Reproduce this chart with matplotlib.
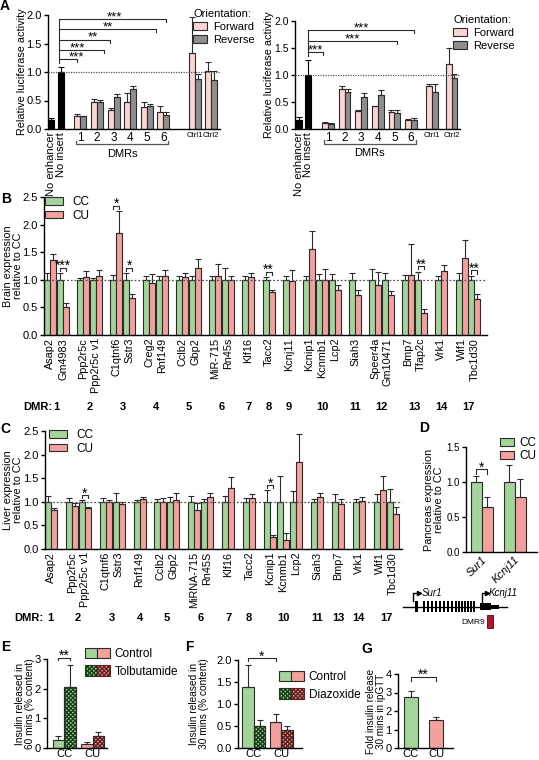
import matplotlib
matplotlib.use('Agg')
import matplotlib.pyplot as plt
import numpy as np
from matplotlib.patches import Patch, Rectangle
from matplotlib.legend_handler import HandlerTuple
from matplotlib.transforms import blended_transform_factory

plt.rcParams['font.family'] = ['Liberation Sans', 'DejaVu Sans']
plt.rcParams['font.size'] = 7.5
plt.rcParams['axes.linewidth'] = 1.0
plt.rcParams['hatch.linewidth'] = 1.0

# ---------------- data ----------------
# Panel A (luciferase, two cell lines)
a_single_labels = ['No enhancer', 'No insert']
a_group_labels = ['1', '2', '3', '4', '5', '6', 'Ctrl1', 'Ctrl2']
a1_single = [0.15, 1.00]
a1_single_err = [0.04, 0.08]
a1_fwd = [0.22, 0.48, 0.34, 0.48, 0.38, 0.29, 1.33, 1.01]
a1_fwd_err = [0.04, 0.04, 0.02, 0.15, 0.10, 0.12, 0.63, 0.17]
a1_rev = [0.22, 0.48, 0.57, 0.70, 0.40, 0.24, 0.87, 0.86]
a1_rev_err = [0.01, 0.03, 0.05, 0.06, 0.04, 0.05, 0.10, 0.16]
a1_sig_target = [1, 2, 3, 5, 6]
a1_sig_label = ['***', '***', '**', '**', '***']

a2_single = [0.17, 1.00]
a2_single_err = [0.05, 0.28]
a2_fwd = [0.12, 0.74, 0.33, 0.42, 0.31, 0.16, 0.80, 1.21]
a2_fwd_err = [0.01, 0.06, 0.02, 0.01, 0.04, 0.03, 0.04, 0.29]
a2_rev = [0.10, 0.69, 0.60, 0.63, 0.29, 0.17, 0.68, 0.95]
a2_rev_err = [0.01, 0.06, 0.07, 0.09, 0.07, 0.03, 0.15, 0.07]
a2_sig_target = [1, 5, 6]
a2_sig_label = ['***', '***', '***']

# Panel B (brain)
b_genes = ['Asap2', 'Gm4983', 'Ppp2r5c', 'Ppp2r5c v1', 'C1qtnf6', 'Sstr3', 'Creg2', 'Rnf149',
           'Cclb2', 'Gbp2', 'MiR-715', 'Rn45s', 'Klf16', 'Tacc2', 'Kcnj11', 'Kcnip1', 'Kcnmb1',
           'Lcp2', 'Siah3', 'Speer4a', 'Gm10471', 'Bmp7', 'Tfap2c', 'Vrk1', 'Wif1', 'Tbc1d30']
b_dmr = ['1', '1', '2', '2', '3', '3', '4', '4', '5', '5', '6', '6', '7', '8', '9', '10', '10',
         '10', '11', '12', '12', '13', '13', '14', '17', '17']
b_cc = [1.0, 1.0, 1.0, 1.0, 1.0, 1.0, 1.0, 1.0, 1.0, 1.0, 1.0, 1.0, 1.0, 1.0, 1.0, 1.0, 1.0,
        1.0, 1.0, 1.0, 1.0, 1.0, 1.0, 1.0, 1.0, 1.0]
b_cc_err = [0.12, 0.12, 0.04, 0.03, 0.08, 0.12, 0.06, 0.06, 0.07, 0.07, 0.07, 0.21, 0.07, 0.05,
            0.07, 0.07, 0.10, 0.10, 0.12, 0.19, 0.12, 0.08, 0.15, 0.07, 0.12, 0.07]
b_cu = [1.35, 0.50, 1.05, 1.07, 1.85, 0.67, 0.95, 1.06, 1.05, 1.21, 1.07, 1.00, 1.05, 0.77,
        0.98, 1.56, 0.99, 0.81, 0.72, 0.90, 0.73, 1.09, 0.39, 1.16, 1.40, 0.65]
b_cu_err = [0.12, 0.08, 0.11, 0.10, 0.39, 0.08, 0.15, 0.12, 0.08, 0.17, 0.21, 0.06, 0.07, 0.05,
            0.20, 0.32, 0.20, 0.09, 0.09, 0.24, 0.06, 0.55, 0.08, 0.11, 0.32, 0.09]
b_sig = {'Gm4983': '***', 'C1qtnf6': '*', 'Sstr3': '*', 'Tacc2': '**', 'Tfap2c': '**', 'Tbc1d30': '**'}

# Panel C (liver)
c_genes = ['Asap2', 'Ppp2r5c', 'Ppp2r5c v1', 'C1qtnf6', 'Sstr3', 'Rnf149', 'Cclb2', 'Gbp2',
           'MiRNA-715', 'Rn45S', 'Klf16', 'Tacc2', 'Kcnip1', 'Kcnmb1', 'Lcp2', 'Siah3', 'Bmp7',
           'Vrk1', 'Wif1', 'Tbc1d30']
c_dmr = ['1', '2', '2', '3', '3', '4', '5', '5', '6', '6', '7', '8', '10', '10', '10', '11', '13',
         '14', '17', '17']
c_cc = [1.0, 1.0, 1.0, 1.0, 1.0, 1.0, 1.0, 1.0, 1.0, 1.0, 1.0, 1.0, 1.0, 1.0, 1.0, 1.0, 1.0,
        1.0, 1.0, 1.0]
c_cc_err = [0.12, 0.08, 0.04, 0.08, 0.18, 0.04, 0.06, 0.10, 0.13, 0.05, 0.12, 0.08, 0.25, 0.55,
            0.22, 0.05, 0.17, 0.05, 0.17, 0.27]
c_cu = [0.82, 0.92, 0.86, 1.00, 0.95, 1.05, 1.00, 1.03, 0.83, 1.10, 1.30, 1.07, 0.26, 0.20,
        1.85, 1.11, 0.96, 1.02, 1.25, 0.75]
c_cu_err = [0.05, 0.05, 0.04, 0.04, 0.05, 0.05, 0.08, 0.15, 0.14, 0.08, 0.22, 0.10, 0.03, 0.13,
            0.58, 0.08, 0.09, 0.08, 0.29, 0.15]
c_sig = {'Ppp2r5c v1': '*', 'Kcnip1': '*'}

# Panel D (pancreas)
d_genes = ['Sur1', 'Kcnj11']
d_cc = [1.0, 1.0]
d_cc_err = [0.09, 0.25]
d_cu = [0.65, 0.79]
d_cu_err = [0.14, 0.26]
d_sig = {'Sur1': '*'}

# Panels E-G
groups = ['CC', 'CU']
e_control = [0.28, 0.15]
e_control_err = [0.11, 0.04]
e_tolb = [2.06, 0.39]
e_tolb_err = [0.73, 0.14]
f_control = [1.38, 0.60]
f_control_err = [0.51, 0.18]
f_diaz = [0.51, 0.40]
f_diaz_err = [0.12, 0.11]
g_fold = [2.78, 1.52]
g_fold_err = [0.32, 0.18]

# ---------------- style ----------------
GREEN = '#a3d59b'
PINK = '#f3a09f'
FWD = '#fbd5d5'
REV = '#8e8e8e'
EDGE = '#2b2b2b'
DKGREEN = '#1a401a'
DKPINK = '#5e1f1f'
HATCH = 'xxxxxxxx'

W, H = 539.0, 760.0
fig = plt.figure(figsize=(W / 100, H / 100), dpi=100)


def px_axes(x0, y_top, x1, y_bot):
    return fig.add_axes([x0 / W, 1 - y_bot / H, (x1 - x0) / W, (y_bot - y_top) / H])


def style(ax, ylab_size=8):
    for s in ['top', 'right']:
        ax.spines[s].set_visible(False)
    ax.tick_params(axis='y', direction='out', length=3, width=1, labelsize=ylab_size, pad=1.5)
    ax.tick_params(axis='x', length=0, labelsize=8, pad=2)


def ylabel_px(ax, text, xpx, fs=7.8, ls=1.05):
    bb = ax.get_position()
    ax.set_ylabel(text, fontsize=fs, linespacing=ls)
    ax.yaxis.label.set_va('center')
    ax.yaxis.set_label_coords((xpx / W - bb.x0) / bb.width, 0.5)


def panel_label(txt, x, y):
    fig.text(x / W, 1 - y / H, txt, fontsize=10, fontweight='bold', ha='center', va='center')


def up_err(ax, x, y, e, color=EDGE):
    ax.errorbar(x, y, yerr=[np.zeros(len(y)), e], fmt='none', ecolor=color,
                elinewidth=0.8, capsize=2, capthick=0.8, zorder=3)


def star(ax, x, y, label, fs=10):
    ax.annotate(label, (x, y), xytext=(0, 1.2), textcoords='offset points',
                ha='center', va='center', fontsize=fs, annotation_clip=False)


def pair_bracket(ax, x1, x2, y, drop, label, fs=10):
    ax.plot([x1, x1, x2, x2], [y - drop, y, y, y - drop], color=EDGE, lw=0.8, clip_on=False)
    star(ax, (x1 + x2) / 2, y, label, fs)


def grouped_positions(grp, gap):
    pos, x, prev = [], 0.0, None
    for g in grp:
        if prev is not None:
            x += 1.0 if g == prev else 1.0 + gap
        pos.append(x)
        prev = g
    return np.array(pos)


# ---------------- Panel A ----------------
def draw_A(ax, single, single_err, fwd, fwd_err, rev, rev_err, sig_t, sig_l, L, tick_fs=8):
    xs = np.array([0.0, 1.0])
    gx = np.concatenate([L['d0'] + L['ds'] * np.arange(6), L['c0'] + L['cs'] * np.arange(2)])
    w = 0.62
    ax.bar(xs, single, w, color='black', edgecolor='black', lw=0.8, zorder=2)
    up_err(ax, xs, np.array(single), single_err, 'black')
    ax.bar(gx - w / 2, fwd, w, color=FWD, edgecolor=EDGE, lw=0.8, zorder=2)
    ax.bar(gx + w / 2, rev, w, color=REV, edgecolor=EDGE, lw=0.8, zorder=2)
    up_err(ax, gx - w / 2, np.array(fwd), fwd_err)
    up_err(ax, gx + w / 2, np.array(rev), rev_err)
    ax.axhline(1.0, color='#555555', lw=0.9, ls=(0, (1, 1)), zorder=4)
    ax.set_xlim(*L['xlim'])
    ax.set_ylim(0, 2.0)
    ax.set_yticks([0, 0.5, 1.0, 1.5, 2.0])
    ax.set_yticklabels(['0.0', '0.5', '1.0', '1.5', '2.0'])
    style(ax, tick_fs)
    ax.set_xticks(list(xs) + list(gx))
    ax.set_xticklabels(a_single_labels + a_group_labels)
    labs = ax.get_xticklabels()
    for t in labs[:2]:
        t.set_rotation(90)
        t.set_fontsize(8)
    for t in labs[2:8]:
        t.set_fontsize(8.5)
    for t in labs[8:]:
        t.set_fontsize(5.6)
    # DMR bracket under axis
    tr = blended_transform_factory(ax.transData, ax.transAxes)
    xa, xb = gx[0] - 0.42, gx[5] + 0.5
    ax.plot([xa, xa, xb, xb], [-0.105, -0.135, -0.135, -0.105], transform=tr,
            clip_on=False, color='#555555', lw=0.9)
    ax.text((xa + xb) / 2, -0.22, 'DMRs', transform=tr, ha='center', va='center', fontsize=8)
    # significance brackets from "No insert"
    x0 = L['sx']
    hs = L['sh']
    ax.plot([x0, x0], [hs[0] - 0.07, hs[-1]], color=EDGE, lw=0.8, clip_on=False)
    for t, lab, h, off, fr in zip(sig_t, sig_l, hs, L['soff'], L['sfrac']):
        xe = gx[t - 1] + off
        ax.plot([x0, xe, xe], [h, h, h - 0.06], color=EDGE, lw=0.8, clip_on=False)
        star(ax, x0 + fr * (xe - x0), h, lab, 9.5)


axA1 = px_axes(48, 15, 220, 129)
draw_A(axA1, a1_single, a1_single_err, a1_fwd, a1_fwd_err, a1_rev, a1_rev_err,
       a1_sig_target, a1_sig_label,
       dict(d0=3.03, ds=1.72, c0=14.9, cs=1.62, xlim=(-0.33, 17.5), sx=0.82,
            sh=[1.23, 1.39, 1.57, 1.76, 1.93], soff=[-0.31, 0.69, -0.41, 0.97, 0.31],
            sfrac=[0.95, 0.42, 0.66, 0.5, 0.52]))
ylabel_px(axA1, 'Relative luciferase activity', 22)

axA2 = px_axes(295, 21, 460, 129)
draw_A(axA2, a2_single, a2_single_err, a2_fwd, a2_fwd_err, a2_rev, a2_rev_err,
       a2_sig_target, a2_sig_label,
       dict(d0=3.09, ds=1.76, c0=14.15, cs=2.05, xlim=(-0.42, 17.1), sx=0.96,
            sh=[1.43, 1.63, 1.83], soff=[-0.52, 0.23, 0.31], sfrac=[0.5, 0.5, 0.5]),
       tick_fs=7.5)
ylabel_px(axA2, 'Relative luciferase activity', 269)

for ax, (lx, ly) in [(axA1, (193, 9)), (axA2, (453, 15))]:
    hnd = [Patch(facecolor=FWD, edgecolor=EDGE, lw=0.8), Patch(facecolor=REV, edgecolor=EDGE, lw=0.8)]
    ax.legend(hnd, ['Forward', 'Reverse'], title='Orientation:', loc='upper left',
              bbox_to_anchor=(lx / W, 1 - ly / H), bbox_transform=fig.transFigure,
              frameon=False, fontsize=8, title_fontsize=8, handlelength=1.25,
              handleheight=0.75, handletextpad=0.6, labelspacing=0.25, borderpad=0,
              borderaxespad=0, alignment='left')


# ---------------- Panels B / C ----------------
def draw_expr(ax, genes, dmr, cc, cc_err, cu, cu_err, sig, w, gap, xlim, ylim, ticks, dmr_y, dmr_x):
    pos = grouped_positions(dmr, gap)
    ax.bar(pos - w / 2, cc, w, color=GREEN, edgecolor=EDGE, lw=0.8, zorder=2, label='CC')
    ax.bar(pos + w / 2, cu, w, color=PINK, edgecolor=EDGE, lw=0.8, zorder=2, label='CU')
    up_err(ax, pos - w / 2, np.array(cc), cc_err)
    up_err(ax, pos + w / 2, np.array(cu), cu_err)
    ax.axhline(1.0, color='#555555', lw=0.9, ls=(0, (1.5, 1.5)), zorder=4)
    ax.set_xlim(*xlim)
    ax.set_ylim(*ylim)
    ax.set_yticks(ticks)
    ax.set_yticklabels(['%.1f' % t for t in ticks])
    style(ax)
    ax.set_xticks(pos)
    ax.set_xticklabels(genes, rotation=90, fontsize=7.8)
    for g, lab in sig.items():
        i = genes.index(g)
        top = max(cc[i] + cc_err[i], cu[i] + cu_err[i]) + 0.1
        pair_bracket(ax, pos[i] - w / 2, pos[i] + w / 2, top, 0.06, lab)
    tr = blended_transform_factory(ax.transData, fig.transFigure)
    seen = []
    for d in dmr:
        if d not in seen:
            seen.append(d)
    for d in seen:
        xc = np.mean([p for p, dd in zip(pos, dmr) if dd == d])
        ax.text(xc, 1 - dmr_y / H, d, transform=tr, ha='center', va='center',
                fontsize=8, fontweight='bold')
    fig.text(dmr_x / W, 1 - dmr_y / H, 'DMR:', ha='right', va='center', fontsize=8,
             fontweight='bold')
    return pos


axB = px_axes(44, 197, 487, 335)
draw_expr(axB, b_genes, b_dmr, b_cc, b_cc_err, b_cu, b_cu_err, b_sig, 0.47, 0.6,
          (-0.5, 34.4), (0, 2.5), [0, 0.5, 1.0, 1.5, 2.0, 2.5], 407, 52)
ylabel_px(axB, 'Brain expression\nrelative to CC', 13)
axB.legend(loc='upper left', bbox_to_anchor=(45 / W, 1 - 196 / H), bbox_transform=fig.transFigure,
           frameon=False, fontsize=8.5, handlelength=1.5, handleheight=0.6,
           handletextpad=0.8, labelspacing=0.15, borderpad=0, borderaxespad=0)

axC = px_axes(45, 431, 402, 549)
draw_expr(axC, c_genes, c_dmr, c_cc, c_cc_err, c_cu, c_cu_err, c_sig, 0.46, 0.6,
          (-0.44, 26.9), (0, 2.5), [0, 0.5, 1.0, 1.5, 2.0, 2.5], 618, 43)
ylabel_px(axC, 'Liver expression\nrelative to CC', 13)
axC.legend(loc='upper left', bbox_to_anchor=(49 / W, 1 - 429 / H), bbox_transform=fig.transFigure,
           frameon=False, fontsize=8.5, handlelength=1.5, handleheight=0.6,
           handletextpad=0.8, labelspacing=0.15, borderpad=0, borderaxespad=0)

# ---------------- Panel D ----------------
axD = px_axes(466, 447, 537, 552)
dpos = np.array([0.0, 2.96])
axD.bar(dpos - 0.5, d_cc, 1.0, color=GREEN, edgecolor=EDGE, lw=0.8, zorder=2, label='CC')
axD.bar(dpos + 0.5, d_cu, 1.0, color=PINK, edgecolor=EDGE, lw=0.8, zorder=2, label='CU')
up_err(axD, dpos - 0.5, np.array(d_cc), d_cc_err)
up_err(axD, dpos + 0.5, np.array(d_cu), d_cu_err)
axD.set_xlim(-1.45, 5.0)
axD.set_ylim(0, 1.5)
axD.set_yticks([0, 0.5, 1.0, 1.5])
axD.set_yticklabels(['0.0', '0.5', '1.0', '1.5'])
style(axD, 7)
axD.set_xticks(dpos)
axD.set_xticklabels(d_genes, rotation=45, ha='right', rotation_mode='anchor',
                    fontstyle='italic', fontsize=8)
for g, lab in d_sig.items():
    i = d_genes.index(g)
    pair_bracket(axD, dpos[i] - 0.5, dpos[i] + 0.5, 1.18, 0.06, lab)
ylabel_px(axD, 'Pancreas expression\nrelative to CC', 434)
axD.legend(loc='upper left', bbox_to_anchor=(500 / W, 1 - 437 / H), bbox_transform=fig.transFigure,
           frameon=False, fontsize=8.5, handlelength=1.2, handleheight=0.65,
           handletextpad=0.4, labelspacing=0.1, borderpad=0, borderaxespad=0)

# gene schematic under D
axS = px_axes(400, 580, 539, 640)
axS.set_xlim(400, 539)
axS.set_ylim(640, 580)
axS.axis('off')
axS.plot([403, 507], [607, 607], color='black', lw=1.0)
sur1_exons = [417, 424, 428, 432, 436, 440, 444, 448, 452, 456, 459, 462, 465, 468, 471, 474]
for i, xe in enumerate(sur1_exons):
    wdt = 3.0 if i == 0 else 1.2
    axS.add_patch(Rectangle((xe - wdt / 2, 601), wdt, 11, color='black', lw=0))
axS.add_patch(Rectangle((480, 603), 11, 7, color='black', lw=0))
axS.add_patch(Rectangle((491, 604.5), 8, 4, color='black', lw=0))
axS.plot([413, 413, 419], [601, 593, 593], color='black', lw=1.0)
axS.plot([419], [593], marker='>', color='black', markersize=3)
axS.text(422, 593, 'Sur1', fontsize=7, fontstyle='italic', va='center')
axS.plot([482, 482, 487], [603, 593, 593], color='black', lw=1.0)
axS.plot([487], [593], marker='>', color='black', markersize=3)
axS.text(489, 593, 'Kcnj11', fontsize=7, fontstyle='italic', va='center')
axS.add_patch(Rectangle((487, 615), 6, 13, facecolor='#b5142b', edgecolor='#4a0a10', lw=0.6))
axS.text(485, 622, 'DMR9', fontsize=6, ha='right', va='center')

# ---------------- Panels E / F ----------------
def draw_treat(ax, ctrl, ctrl_err, trt, trt_err, gap, xlim, ylim, ticks, fmt):
    pos = np.array([0.0, gap])
    cols = [GREEN, PINK]
    dks = [DKGREEN, DKPINK]
    for i in range(2):
        ax.bar(pos[i] - 0.5, ctrl[i], 1.0, color=cols[i], edgecolor=EDGE, lw=0.8, zorder=2)
        ax.bar(pos[i] + 0.5, trt[i], 1.0, facecolor=cols[i], edgecolor=dks[i], hatch=HATCH,
               lw=0.8, zorder=2)
        ax.bar(pos[i] + 0.5, trt[i], 1.0, facecolor='none', edgecolor=EDGE, lw=0.8, zorder=2.5)
    up_err(ax, pos - 0.5, np.array(ctrl), ctrl_err)
    up_err(ax, pos + 0.5, np.array(trt), trt_err)
    ax.set_xlim(*xlim)
    ax.set_ylim(*ylim)
    ax.set_yticks(ticks)
    ax.set_yticklabels([fmt % t for t in ticks])
    style(ax)
    ax.tick_params(axis='x', pad=0.5)
    ax.set_xticks(pos)
    ax.set_xticklabels(groups, fontsize=8)
    return pos


def treat_legend(ax, labels, x, y):
    h1 = (Patch(facecolor=GREEN, edgecolor=EDGE, lw=0.8), Patch(facecolor=PINK, edgecolor=EDGE, lw=0.8))
    h2 = (Patch(facecolor=GREEN, edgecolor=DKGREEN, hatch=HATCH, lw=0.8),
          Patch(facecolor=PINK, edgecolor=DKPINK, hatch=HATCH, lw=0.8))
    ax.legend([h1, h2], labels, handler_map={tuple: HandlerTuple(ndivide=None, pad=0)},
              loc='upper left', bbox_to_anchor=(x / W, 1 - y / H), bbox_transform=fig.transFigure,
              frameon=False, fontsize=8.5, handlelength=2.1, handleheight=0.95,
              handletextpad=0.4, labelspacing=0.45, borderpad=0, borderaxespad=0)


axE = px_axes(47, 659, 107, 748)
pe = draw_treat(axE, e_control, e_control_err, e_tolb, e_tolb_err, 2.5, (-1.48, 3.74), (0, 3),
                [0, 1, 2, 3], '%d')
pair_bracket(axE, pe[0] - 0.5, pe[0] + 0.5, 3.05, 0.1, '**')
ylabel_px(axE, 'Insulin released in\n60 mins (% content)', 25, fs=7.3, ls=1.0)
treat_legend(axE, ['Control', 'Tolbutamide'], 85, 648)

axF = px_axes(238, 660, 302, 748)
pf = draw_treat(axF, f_control, f_control_err, f_diaz, f_diaz_err, 2.4, (-1.39, 4.22), (0, 2.0),
                [0, 0.5, 1.0, 1.5, 2.0], '%.1f')
pair_bracket(axF, pf[0] - 0.5, pf[1] - 0.5, 2.04, 0.07, '*')
ylabel_px(axF, 'Insulin released in\n30 mins (% content)', 199, fs=7.3, ls=1.0)
treat_legend(axF, ['Control', 'Diazoxide'], 279, 671)

# ---------------- Panel G ----------------
axG = px_axes(398, 674, 453, 748)
gpos = np.array([0.0, 1.78])
axG.bar(gpos, g_fold, 1.0, color=[GREEN, PINK], edgecolor=EDGE, lw=0.8, zorder=2)
up_err(axG, gpos, np.array(g_fold), g_fold_err)
axG.set_xlim(-0.92, 2.99)
axG.set_ylim(0, 4)
axG.set_yticks([0, 1, 2, 3, 4])
style(axG)
axG.tick_params(axis='x', pad=0.5)
axG.set_xticks(gpos)
axG.set_xticklabels(groups, fontsize=8)
pair_bracket(axG, gpos[0], gpos[1], 3.85, 0.25, '**')
ylabel_px(axG, 'Fold insulin release\n30 mins in ipGTT', 376, fs=7.1, ls=1.0)

# panel letters
panel_label('A', 5, 6)
panel_label('B', 6, 199)
panel_label('C', 5, 429)
panel_label('D', 424, 428)
panel_label('E', 6, 647)
panel_label('F', 189, 647)
panel_label('G', 367, 649)

fig.savefig('out.png', dpi=100)
